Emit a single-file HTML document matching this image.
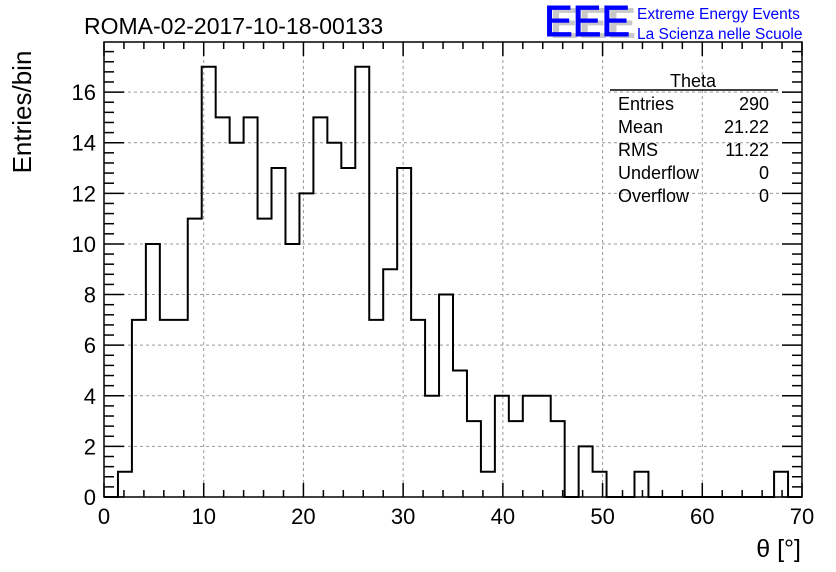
<!DOCTYPE html>
<html><head><meta charset="utf-8"><style>
body{margin:0;background:#fff;}
svg{display:block;font-family:"Liberation Sans",sans-serif;}
</style></head><body>
<svg id="c" width="836" height="572">
<text x="84" y="34" font-size="23">ROMA-02-2017-10-18-00133</text>
<g>
<text x="550" y="38" font-size="44" font-weight="bold" fill="#c8c8c8" textLength="86" lengthAdjust="spacingAndGlyphs">EEE</text>
<text x="544" y="36" font-size="44" fill="#0000ff" textLength="86" lengthAdjust="spacingAndGlyphs" stroke="#0000ff" stroke-width="1">EEE</text>
<text x="637" y="19" font-size="15.5" fill="#0000ff">Extreme Energy Events</text>
<text x="637" y="39" font-size="15.5" fill="#0000ff">La Scienza nelle Scuole</text>
</g>
<g id="grid"></g>
<g id="ticks"></g>
<path id="hist" fill="none" stroke="#000" stroke-width="2"/>
<rect x="104" y="42" width="698" height="455" fill="none" stroke="#000" stroke-width="1.5"/>
<g font-size="18">
<text x="693" y="87" text-anchor="middle">Theta</text>
<line x1="610" y1="90" x2="778" y2="90" stroke="#000" stroke-width="1.5"/>
<text x="618" y="110">Entries</text><text x="769" y="110" text-anchor="end">290</text>
<text x="618" y="133">Mean</text><text x="769" y="133" text-anchor="end">21.22</text>
<text x="618" y="156">RMS</text><text x="769" y="156" text-anchor="end">11.22</text>
<text x="618" y="179">Underflow</text><text x="769" y="179" text-anchor="end">0</text>
<text x="618" y="202">Overflow</text><text x="769" y="202" text-anchor="end">0</text>
</g>
<text transform="translate(31,112) rotate(-90)" font-size="26" text-anchor="middle">Entries/bin</text>
<text x="801" y="557" font-size="25" text-anchor="end">θ [°]</text>
</svg>
<script>
const counts=[0,1,7,10,7,7,11,17,15,14,15,11,13,10,12,15,14,13,17,7,9,13,7,4,8,5,3,1,4,3,4,4,3,0,2,1,0,0,1,0,0,0,0,0,0,0,0,0,1,0];
const xTicks=[0,10,20,30,40,50,60,70];
const yTicks=[0,2,4,6,8,10,12,14,16];
const binW=1.4, xMin=0,xMax=70,yMin=0,yMax=17.98;
const L=104,R=802,T=42,B=497;
const sx=v=>L+(v-xMin)/(xMax-xMin)*(R-L);
const sy=v=>B-(v-yMin)/(yMax-yMin)*(B-T);
const NS='http://www.w3.org/2000/svg';
const svg=document.getElementById('c'),grid=document.getElementById('grid'),tk=document.getElementById('ticks');
function mk(tag,at,p){const e=document.createElementNS(NS,tag);for(const k in at)e.setAttribute(k,at[k]);p.appendChild(e);return e;}
let d='M'+sx(0)+','+sy(0);
counts.forEach((c,i)=>{d+=' L'+sx(i*binW)+','+sy(c)+' L'+sx((i+1)*binW)+','+sy(c);});
d+=' L'+sx(counts.length*binW)+','+sy(0);
document.getElementById('hist').setAttribute('d',d);
xTicks.forEach(v=>{
 if(v>0&&v<70){const g=mk('line',{x1:sx(v),x2:sx(v),y1:T,y2:B,stroke:'#999','stroke-dasharray':'3,3'},grid);
 
 }
 const t=mk('text',{x:sx(v),y:B+27,'font-size':22,'text-anchor':'middle'},svg);t.textContent=v;
 
 
});
for(let v=0;v<=70.001;v+=2){const maj=Math.abs(v%10)<0.01;const len=maj?14:7;
 mk('line',{x1:sx(v),x2:sx(v),y1:B,y2:B-len,stroke:'#000','stroke-width':1.5},tk);
 mk('line',{x1:sx(v),x2:sx(v),y1:T,y2:T+len,stroke:'#000','stroke-width':1.5},tk);}
yTicks.forEach(v=>{
 if(v>0){const g=mk('line',{x1:L,x2:R,y1:sy(v),y2:sy(v),stroke:'#999','stroke-dasharray':'3,3'},grid);
 
 }
 const t=mk('text',{x:L-8,y:sy(v)+8,'font-size':22,'text-anchor':'end'},svg);t.textContent=v;
 
 
});
for(let i=0;i*0.4<=yMax;i++){const v=i*0.4;const maj=i%5==0;const len=maj?20:10;
 mk('line',{x1:L,x2:L+len,y1:sy(v),y2:sy(v),stroke:'#000','stroke-width':1.5},tk);
 mk('line',{x1:R,x2:R-len,y1:sy(v),y2:sy(v),stroke:'#000','stroke-width':1.5},tk);}
</script>
</body></html>
